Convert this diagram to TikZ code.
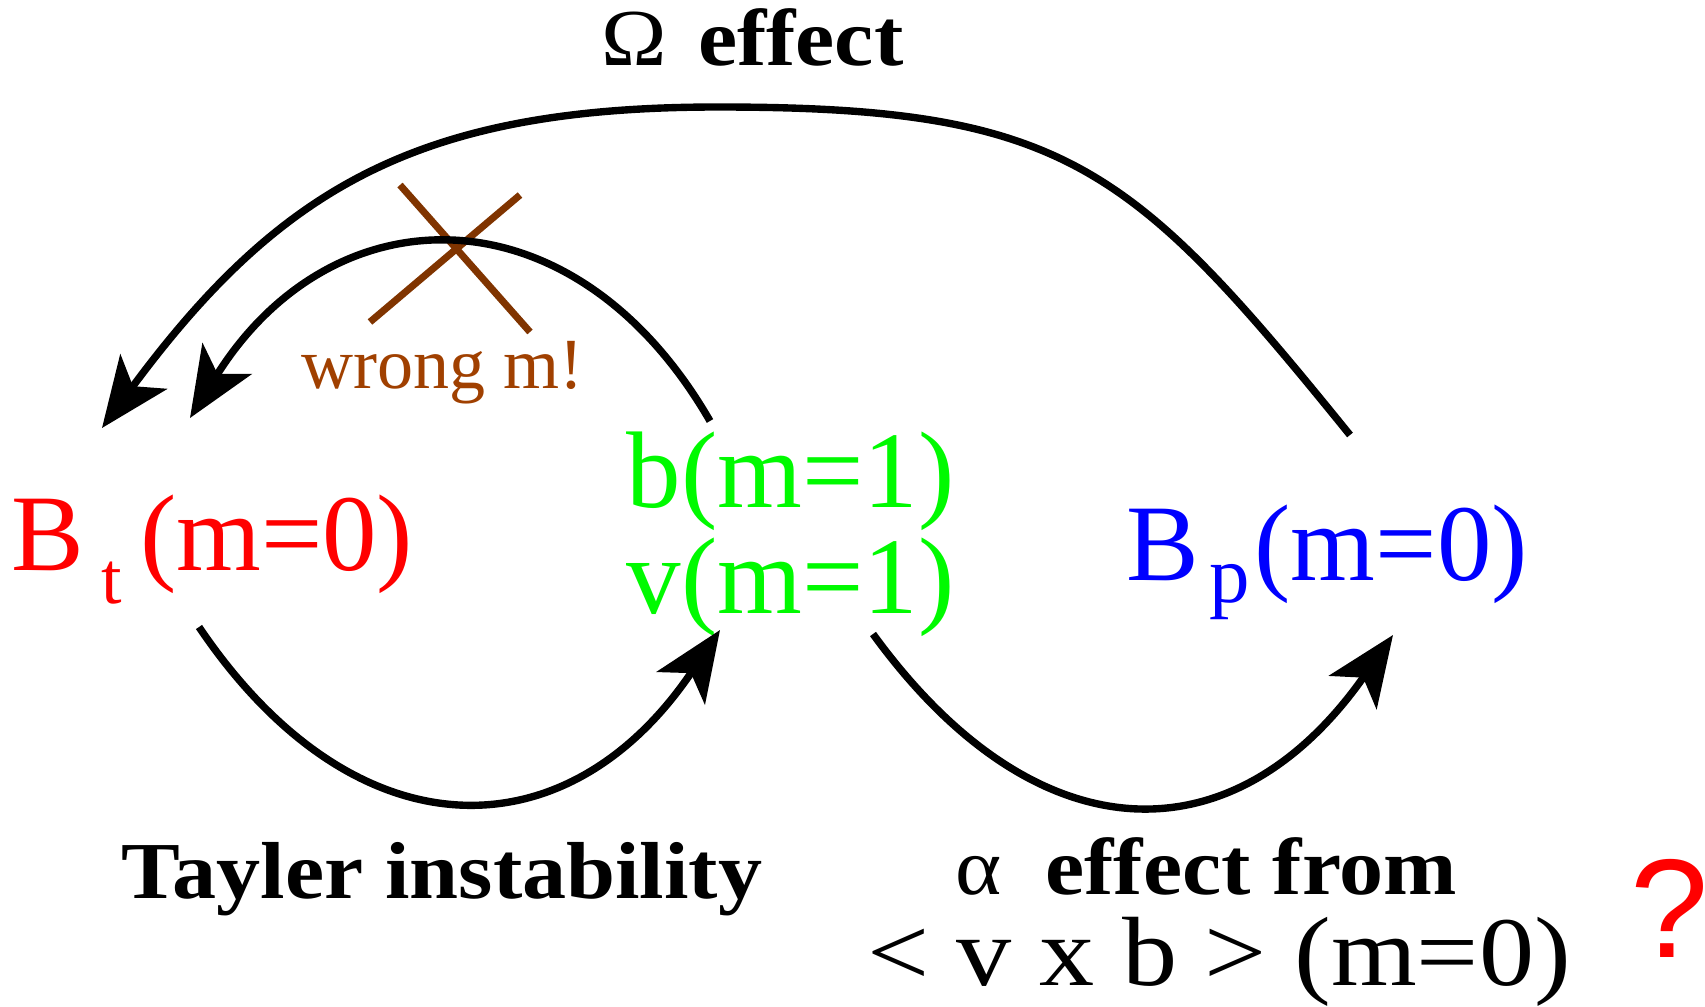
\documentclass[tikz,border=0pt]{standalone}
\usepackage{fontspec}
\setmainfont{Liberation Serif}
\newfontfamily\qmarkfont{Liberation Sans}
\usepackage{tikz}
\usetikzlibrary{arrows.meta}
\definecolor{fieldred}{RGB}{255,0,0}
\definecolor{fieldgreen}{RGB}{0,250,0}
\definecolor{fieldblue}{RGB}{0,0,255}
\definecolor{wrongbrown}{RGB}{160,64,0}
\definecolor{crossbrown}{RGB}{128,52,0}
\newcommand{\widen}[2][1.09]{\scalebox{#1}[1]{#2}}

\begin{document}
\begin{tikzpicture}[
  flow/.style={line width=2.1pt,-{Stealth[length=7mm,width=5.8mm,inset=1.8mm]}},
  field/.style={inner sep=0pt,anchor=base west,font=\fontsize{31}{30}\selectfont},
  tag/.style={inner sep=0pt,anchor=base,font=\fontsize{23}{23}\selectfont\bfseries}]
  \useasboundingbox (0,0) rectangle (17.05,10.06);
  % field components
  \node[field,fieldred] (bt) at (0.11,4.36)
    {B\kern5pt\raisebox{-9.4pt}{\fontsize{21}{21}\selectfont t}\kern5pt(m=0)};
  \node[field,fieldgreen,align=left] (gr) at (6.26,3.93) {b(m=1)\\v(m=1)};
  \node[field,fieldblue] (bp) at (11.26,4.26)
    {B\kern2.8pt\raisebox{-6.5pt}{\fontsize{23}{23}\selectfont p}\kern1.4pt(m=0)};
  % labels of the loops
  \node[tag,anchor=base west] (omega) at (6.01,9.41) {\widen{{\mdseries Ω}\hspace{0.35em}effect}};
  \node[tag] (tayler) at (4.42,1.08) {\widen{Tayler instability}};
  \node[tag] (alpha) at (12.06,1.12) {\widen{{\mdseries α}\hspace{0.5em}effect from}};
  \node[inner sep=0pt,anchor=base,font=\fontsize{28}{28}\selectfont] (vxb) at (12.19,0.21)
    {\widen[1.12]{<\ v\ x\ b\ >\ (m=0)}};
  \node[inner sep=0pt,anchor=base west,fieldred,font=\qmarkfont\fontsize{40}{40}\selectfont] (qmark) at (16.30,0.49) {?};
  \node[inner sep=0pt,anchor=base west,wrongbrown,font=\fontsize{20.5}{20.5}\selectfont] (wrong) at (3.01,6.18) {wrong m!};
  % crossed-out feedback
  \draw[crossbrown,line width=2pt] (4.00,8.21) -- (5.30,6.74);
  \draw[crossbrown,line width=2pt] (5.20,8.11) -- (3.70,6.84);
  % loops
  \coordinate (omtop) at (7.18,8.99);
  \draw[flow] ([shift={(2.24,1.45)}]bp.base west) to[out=129,in=0,looseness=1.25] (omtop)
    to[out=180,in=53.5,looseness=1.1] ([shift={(0.91,1.42)}]bt.base west);
  \draw[flow] ([shift={(0.84,1.92)}]gr.base west) to[out=120,in=58,looseness=1.33] ([shift={(1.79,1.52)}]bt.base west);
  \draw[flow] ([shift={(1.88,-0.57)}]bt.base west) to[out=-56,in=236,looseness=1.35] ([shift={(0.94,-0.17)}]gr.base west);
  \draw[flow] ([shift={(2.47,-0.21)}]gr.base west) to[out=-54,in=235,looseness=1.36] ([shift={(2.67,-0.55)}]bp.base west);
\end{tikzpicture}
\end{document}
